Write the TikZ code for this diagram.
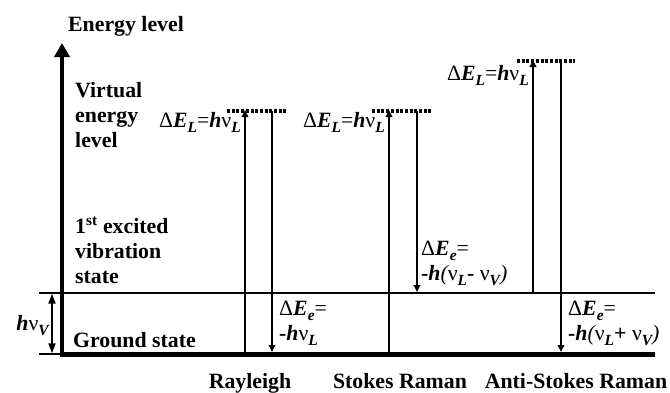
\documentclass[tikz,border=0pt]{standalone}
\usepackage{fontspec}
\setmainfont{Liberation Serif}
\usetikzlibrary{arrows.meta}
\newcommand\fsz{\fontsize{21.8}{25}\selectfont\bfseries}
\newcommand\sbs[1]{\raisebox{-0.5ex}{\fontsize{15.5}{15.5}\selectfont\itshape #1}}
\newcommand\sbsb[1]{\raisebox{-0.5ex}{\fontsize{15.5}{15.5}\selectfont\bfseries\itshape #1}}
\newcommand\nuu{{\mdseries ν}}
\newcommand\DEL{{\mdseries Δ}\textit{E}\sbs{L}{\mdseries =}\textit{h}\nuu\sbs{L}}
\begin{document}
\begin{tikzpicture}[x=1pt,y=-1pt,
  txt/.style={font=\fsz, inner sep=0pt, anchor=base west, align=left},
  rtxt/.style={font=\fsz, inner sep=0pt, anchor=base east},
  ctxt/.style={font=\fsz, inner sep=0pt, anchor=base},
  trans/.style={line width=2.8pt, -{Triangle[length=7pt,width=6.5pt]}},
  virt/.style={line width=3.2pt, dash pattern=on 3pt off 1.7pt},
  ground/.style={line width=5pt},
  excited/.style={line width=1.4pt},
  axisarrow/.style={line width=4.5pt, -{Triangle[length=14pt,width=15pt]}},
  tick/.style={line width=1.4pt}]
\useasboundingbox (0,0) rectangle (670,392);

% axis and levels
\coordinate (ax0) at (62,356.5);
\coordinate (ax1) at (62,43);
\coordinate (g0) at (60,354);
\coordinate (g1) at (655,354);
\coordinate (e0) at (62,293);
\coordinate (e1) at (655,293);
\draw[ground] (g0) -- (g1);
\draw[excited] (e0) -- (e1);
\draw[axisarrow] (ax0) -- (ax1);

% h nu_V marker
\coordinate (t1a) at (39,293); \coordinate (t1b) at (62,293);
\coordinate (t2a) at (39,354); \coordinate (t2b) at (62,354);
\coordinate (hv0) at (52,293.7); \coordinate (hv1) at (52,353.3);
\draw[tick] (t1a) -- (t1b);
\draw[tick] (t2a) -- (t2b);
\draw[line width=1.8pt, {Triangle[length=10pt,width=7pt]}-{Triangle[length=10pt,width=7pt]}] (hv0) -- (hv1);
\node[rtxt] (hvlab) at (49,330) {\textit{h}\nuu\sbsb{V}};

% texts on the left
\node[txt] (title) at (68,31) {Energy level};
\node[txt] (virtlab) at (75,147) {Virtual\\energy\\level};
\node[txt] (exclab) at (75,283) {1\textsuperscript{st} excited\\vibration\\state};
\node[txt] (gndlab) at (73,347) {Ground state};

% Rayleigh
\coordinate (rv0) at (227,111); \coordinate (rv1) at (287,111);
\draw[virt] (rv0) -- (rv1);
\coordinate (ru0) at (245,354); \coordinate (ru1) at (245,110);
\coordinate (rd0) at (272,111); \coordinate (rd1) at (272,352);
\draw[trans] (ru0) -- (ru1);
\draw[trans] (rd0) -- (rd1);
\node[rtxt] (rEL) at (241,127) {\DEL};
\node[txt] (rEe) at (279,340) {{\mdseries Δ}\textit{E}\sbsb{e}{\mdseries =}\\-\textit{h}\nuu\sbs{L}};

% Stokes
\coordinate (sv0) at (372,111); \coordinate (sv1) at (432,111);
\draw[virt] (sv0) -- (sv1);
\coordinate (su0) at (389,354); \coordinate (su1) at (389,110);
\coordinate (sd0) at (417,111); \coordinate (sd1) at (417,292);
\draw[trans] (su0) -- (su1);
\draw[trans] (sd0) -- (sd1);
\node[rtxt] (sEL) at (385,127) {\DEL};
\node[txt] (sEe) at (421,280) {{\mdseries Δ}\textit{E}\sbsb{e}{\mdseries =}\\-\textit{h}{\mdseries\itshape(}\nuu\sbs{L}- \nuu\sbs{V}{\mdseries\itshape)}};

% Anti-Stokes
\coordinate (av0) at (517,61); \coordinate (av1) at (575,61);
\draw[virt] (av0) -- (av1);
\coordinate (au0) at (533,293); \coordinate (au1) at (533,60);
\coordinate (ad0) at (561,61); \coordinate (ad1) at (561,352);
\draw[trans] (au0) -- (au1);
\draw[trans] (ad0) -- (ad1);
\node[rtxt] (aEL) at (529,80) {\DEL};
\node[txt] (aEe) at (568,340) {{\mdseries Δ}\textit{E}\sbsb{e}{\mdseries =}\\-\textit{h}{\mdseries\itshape(}\nuu\sbs{L}+ \nuu\sbs{V}{\mdseries\itshape)}};

% bottom labels
\node[ctxt] (rlab) at (250,388) {Rayleigh};
\node[ctxt] (slab) at (400,388) {Stokes Raman};
\node[ctxt] (alab) at (576,388) {Anti-Stokes Raman};
\end{tikzpicture}
\end{document}
